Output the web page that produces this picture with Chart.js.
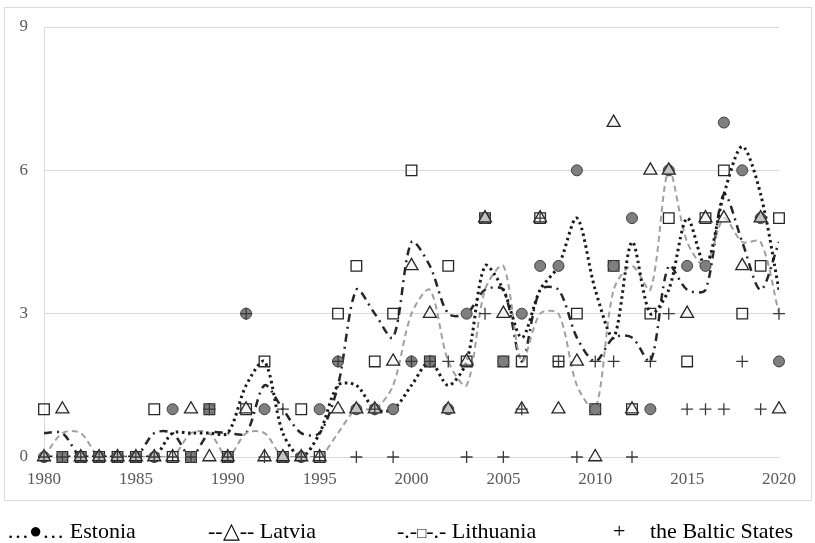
<!DOCTYPE html>
<html>
<head>
<meta charset="utf-8">
<script src="https://cdn.jsdelivr.net/npm/chart.js@4.4.0/dist/chart.umd.min.js"></script>
<style>
  html, body { margin: 0; padding: 0; background: #fff; }
  #wrap { position: relative; width: 815px; height: 543px; overflow: hidden; }
  #frame { position: absolute; left: 4px; top: 7px; width: 808px; height: 494px; border: 1px solid #d9d9d9; box-sizing: border-box; }
  canvas { position: absolute; left: 0; top: 0; }
  .leg { position: absolute; top: 520px; font-family: 'Liberation Serif', serif; font-size: 22px; line-height: 22px; color: #000; white-space: nowrap; }
</style>
</head>
<body>
<div id="wrap">
  <div id="frame"></div>
  <canvas id="chart" width="815" height="543"></canvas>
  <div class="leg" style="left:7px">…●… Estonia</div>
  <div class="leg" style="left:208px">--△-- Latvia</div>
  <div class="leg" style="left:397px">-.-<span style="font-size:15px">□</span>-.- Lithuania</div>
  <div class="leg" style="left:613px">+</div>
  <div class="leg" style="left:650px">the Baltic States</div>
</div>
<script>
// years on the x axis
const years = [1980, 1981, 1982, 1983, 1984, 1985, 1986, 1987, 1988, 1989,
               1990, 1991, 1992, 1993, 1994, 1995, 1996, 1997, 1998, 1999,
               2000, 2001, 2002, 2003, 2004, 2005, 2006, 2007, 2008, 2009,
               2010, 2011, 2012, 2013, 2014, 2015, 2016, 2017, 2018, 2019,
               2020];
const yTicks = [0, 3, 6, 9];

// yearly counts (markers)
const estonia   = [0,0,0,0,0,0,0,1,0,1, 0,3,1,0,0,1,2,1,1,1, 2,2,1,3,5,2,3,4,4,6, 1,4,5,1,6,4,4,7,6,5, 2];
const latvia    = [0,1,0,0,0,0,0,0,1,0, 0,1,0,0,0,0,1,1,1,2, 4,3,1,2,5,3,1,5,1,2, 0,7,1,6,6,3,5,5,4,5, 1];
const lithuania = [1,0,0,0,0,0,1,0,0,1, 0,1,2,0,1,0,3,4,2,3, 6,2,4,2,5,2,2,5,2,3, 1,4,1,3,5,2,5,6,3,4, 5];
const baltic    = [0,0,0,0,0,0,0,0,0,1, 0,3,0,1,0,0,2,0,1,0, 2,2,2,0,3,0,1,5,2,0, 2,2,0,2,3,1,1,1,2,1, 3];

// two-year moving average lines
const estoniaAvg   = [0,0,0,0,0,0,0,0.5,0.5,0.5, 0.5,1.5,2,0.5,0,0.5,1.5,1.5,1,1, 1.5,2,1.5,2,4,3.5,2.5,3.5,4,5, 3.5,2.5,4.5,3,3.5,5,4,5.5,6.5,5.5, 3.5];
const latviaAvg    = [0,0.5,0.5,0,0,0,0,0,0.5,0.5, 0,0.5,0.5,0,0,0,0.5,1,1,1.5, 3,3.5,2,1.5,3.5,4,2,3,3,1.5, 1,3.5,4,3.5,6,4.5,4,5,4.5,4.5, 3];
const lithuaniaAvg = [0.5,0.5,0,0,0,0,0.5,0.5,0,0.5, 0.5,0.5,1.5,1,0.5,0.5,1.5,3.5,3,2.5, 4.5,4,3,3,3.5,3.5,2,3.5,3.5,2.5, 2,2.5,2.5,2,4,3.5,3.5,5.5,4.5,3.5, 4.5];

const pts = arr => years.map((yr, i) => ({ x: yr, y: arr[i] }));

const avgLine = (label, arr, color, width, dash, order) => ({
    type: 'line',
    label: label,
    data: pts(arr),
    borderColor: color,
    borderWidth: width,
    borderDash: dash,
    pointRadius: 0,
    tension: 0.3,
    fill: false,
    order: order
});

const tickFont = { family: 'Liberation Serif', size: 17 };

new Chart(document.getElementById('chart'), {
    type: 'scatter',
    data: {
        datasets: [
            {
                label: 'the Baltic States',
                data: pts(baltic),
                pointStyle: 'cross',
                pointRadius: 6,
                borderColor: '#3a3a3a',
                borderWidth: 1.3,
                clip: false,
                order: 0
            },
            {
                label: 'Latvia',
                data: pts(latvia),
                pointStyle: 'triangle',
                pointRadius: 7.5,
                backgroundColor: 'rgba(240,240,240,0.6)',
                borderColor: '#262626',
                borderWidth: 1.3,
                clip: false,
                order: 1
            },
            {
                label: 'Estonia',
                data: pts(estonia),
                pointStyle: 'circle',
                pointRadius: 5.5,
                backgroundColor: '#7f7f7f',
                borderColor: '#404040',
                borderWidth: 1,
                clip: false,
                order: 2
            },
            {
                label: 'Lithuania',
                data: pts(lithuania),
                pointStyle: 'rect',
                pointRadius: 7.5,
                backgroundColor: 'rgba(255,255,255,0)',
                borderColor: '#262626',
                borderWidth: 1.3,
                clip: false,
                order: 3
            },
            avgLine('Estonia avg', estoniaAvg, '#1a1a1a', 3, [2.5, 3.5], 4),
            avgLine('Latvia avg', latviaAvg, '#a0a0a0', 2, [6, 4], 5),
            avgLine('Lithuania avg', lithuaniaAvg, '#262626', 2.5, [8, 5, 2, 5], 6)
        ]
    },
    options: {
        responsive: false,
        devicePixelRatio: 1,
        animation: false,
        layout: { padding: { left: 0, right: 36, top: 27, bottom: 46 } },
        plugins: {
            legend: { display: false },
            tooltip: { enabled: false }
        },
        scales: {
            x: {
                type: 'linear',
                min: 1980,
                max: 2020,
                afterFit: s => { s.height = 40; },
                grid: { display: false, drawTicks: false },
                border: { color: '#d9d9d9' },
                ticks: { stepSize: 5, padding: 12, color: '#595959', font: tickFont, callback: v => String(v) }
            },
            y: {
                min: 0,
                max: 9,
                afterFit: s => { s.width = 44; },
                afterBuildTicks: s => { s.ticks = yTicks.map(v => ({ value: v })); },
                grid: { color: '#d9d9d9', drawTicks: false },
                border: { color: '#d9d9d9' },
                ticks: { padding: 16, color: '#595959', font: tickFont }
            }
        }
    }
});
</script>
</body>
</html>
